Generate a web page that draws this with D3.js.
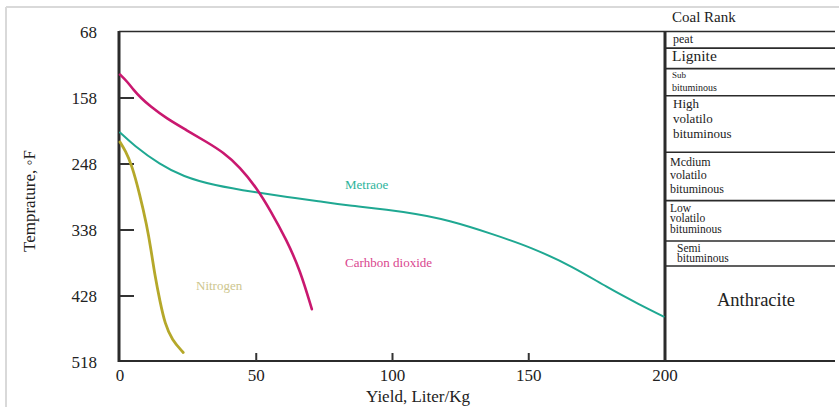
<!DOCTYPE html>
<html lang="en">
  <head>
    <meta charset="utf-8">
    <script src="https://cdnjs.cloudflare.com/ajax/libs/d3/7.8.5/d3.min.js"></script>
    <style>
      body { margin: 0; background: #fff; }
      svg text { font-family: "Liberation Serif", "Times New Roman", serif; fill: #222; }
      .frame { stroke: #d9d9d9; stroke-width: 2; }
      .axis-line { stroke: #2b2b2b; }
      .tick-mark { stroke: #333; stroke-width: 2; }
      .rank-line { stroke: #2b2b2b; stroke-width: 1.6; }
      .curve { fill: none; stroke-linecap: round; stroke-linejoin: round; }
    </style>
  </head>

  <body>

  <script>
  // values
  var xTicks = [0, 50, 100, 150, 200];
  var yTicks = [68, 158, 248, 338, 428, 518];

  var carbonDioxide = [[0, 126], [2.5, 135], [5, 147], [7.7, 158], [11, 169], [17.1, 186],
    [24.5, 202], [31.8, 218], [37.9, 232], [44, 252], [50.2, 281], [55, 310], [61.2, 352],
    [66.1, 393], [70.4, 446]];
  var methane = [[0, 205], [4.9, 222], [14.7, 249], [23.2, 265], [34.2, 277], [50.2, 287],
    [61.2, 293], [73.4, 299], [81.9, 304], [105.2, 313], [121.1, 325], [137, 344],
    [150.5, 361], [166.3, 388], [178.6, 416], [190.8, 440], [199.5, 456]];
  var nitrogen = [[0, 218], [2, 230], [4.3, 249], [7.3, 290], [9.8, 331], [11.4, 365], [12.8, 400],
    [14.7, 436], [16.5, 466], [19.1, 488], [23.2, 505]];

  var rankNames = [['peat'], ['Lignite'], ['Sub', 'bituminous'], ['High', 'volatilo', 'bituminous'],
    ['Mcdium', 'volatilo', 'bituminous'], ['Low', 'volatilo', 'bituminous'],
    ['Semi', 'bituminous'], ['Anthracite']];
  var rankTop = [68, 90, 118, 155, 232, 298, 353, 387];

  var width = 839,
      height = 407;

  var svg = d3.select('body')
    .append('svg')
    .attr('width', width)
    .attr('height', height);

  var x = d3.scaleLinear().domain([0, 200]).range([120, 665]);
  var y = d3.scaleLinear().domain([68, 518]).range([32, 362]);
  var panelRight = 835;

  // light frame of the picture
  svg.append('line').attr('class', 'frame').attr('x1', 6).attr('x2', width).attr('y1', 7).attr('y2', 7);
  svg.append('line').attr('class', 'frame').attr('x1', 6).attr('x2', 6).attr('y1', 7).attr('y2', height);

  // coal rank panel
  var rankStyle = [
    { size: [12], dx: 8, dy: [11] },
    { size: [15.5], dx: 7, dy: [13] },
    { size: [9, 10], dx: 7, dy: [9, 22] },
    { size: [13, 13, 13], dx: 8, dy: [12, 27, 42] },
    { size: [12, 12, 12], dx: 5, dy: [13.5, 27, 40.5] },
    { size: [11.5, 11.5, 11.5], dx: 5, dy: [11, 21.5, 32] },
    { size: [11.5, 11.5], dx: 12, dy: [10.5, 21] },
    { size: [18.5], dx: 52, dy: [40] }
  ];

  svg.append('text')
    .attr('x', 672).attr('y', 22)
    .style('font-size', '15px')
    .text('Coal Rank');

  svg.selectAll('.rank-line')
    .data(rankTop.slice(1))
    .enter().append('line')
    .attr('class', 'rank-line')
    .attr('x1', x(200)).attr('x2', panelRight)
    .attr('y1', d => y(d)).attr('y2', d => y(d));

  rankNames.forEach((lines, i) => {
    var st = rankStyle[i];
    lines.forEach((t, j) => {
      svg.append('text')
        .attr('x', x(200) + st.dx)
        .attr('y', y(rankTop[i]) + st.dy[j])
        .style('font-size', st.size[j] + 'px')
        .text(t);
    });
  });

  // plot box
  svg.append('line').attr('class', 'axis-line').attr('stroke-width', 1.6)
    .attr('x1', x(0) - 1).attr('x2', panelRight).attr('y1', y(68) - 0.5).attr('y2', y(68) - 0.5);
  svg.append('line').attr('class', 'axis-line').attr('stroke-width', 2)
    .attr('x1', x(0) - 1).attr('x2', panelRight).attr('y1', y(518) - 1).attr('y2', y(518) - 1);
  svg.append('line').attr('class', 'axis-line').attr('stroke-width', 3)
    .attr('x1', x(0) - 1).attr('x2', x(0) - 1).attr('y1', y(68) - 1).attr('y2', y(518));
  svg.append('line').attr('class', 'axis-line').attr('stroke-width', 3)
    .attr('x1', x(200)).attr('x2', x(200)).attr('y1', y(68) - 1).attr('y2', y(518));

  // ticks
  svg.selectAll('.ytick')
    .data(yTicks.slice(1, -1))
    .enter().append('line')
    .attr('class', 'tick-mark')
    .attr('x1', x(0)).attr('x2', x(0) + 14)
    .attr('y1', d => y(d)).attr('y2', d => y(d));

  svg.selectAll('.xtick')
    .data(xTicks.slice(1, -1))
    .enter().append('line')
    .attr('class', 'tick-mark')
    .attr('x1', d => x(d)).attr('x2', d => x(d))
    .attr('y1', y(518) - 1).attr('y2', y(518) - 9);

  svg.selectAll('.ylab')
    .data(yTicks)
    .enter().append('text')
    .attr('x', 97)
    .attr('y', d => y(d) + 6)
    .attr('text-anchor', 'end')
    .style('font-size', '17px')
    .text(d => d);

  svg.selectAll('.xlab')
    .data(xTicks)
    .enter().append('text')
    .attr('x', d => x(d))
    .attr('y', 381)
    .attr('text-anchor', 'middle')
    .style('font-size', '17px')
    .text(d => d);

  svg.append('text')
    .attr('x', 418).attr('y', 402)
    .attr('text-anchor', 'middle')
    .style('font-size', '17px')
    .text('Yield, Liter/Kg');

  svg.append('text')
    .attr('transform', 'translate(35,201) rotate(-90)')
    .attr('text-anchor', 'middle')
    .style('font-size', '17px')
    .text('Temprature, \u25E6F');

  // curves
  var line = d3.line()
    .x(d => x(d[0]))
    .y(d => y(d[1]))
    .curve(d3.curveBasis);

  svg.append('path').attr('class', 'curve')
    .attr('d', line(methane)).attr('stroke', '#1fa892').attr('stroke-width', 2);
  svg.append('path').attr('class', 'curve')
    .attr('d', line(carbonDioxide)).attr('stroke', '#c9186f').attr('stroke-width', 2.6);
  svg.append('path').attr('class', 'curve')
    .attr('d', line(nitrogen)).attr('stroke', '#b5a82a').attr('stroke-width', 2.8);

  // series labels
  svg.append('text').attr('x', 345).attr('y', 189)
    .style('font-size', '13px').style('fill', '#2bb39b').text('Metraoe');
  svg.append('text').attr('x', 345).attr('y', 267)
    .style('font-size', '13px').style('fill', '#d9458e').text('Carhbon dioxide');
  svg.append('text').attr('x', 196).attr('y', 290)
    .style('font-size', '13px').style('fill', '#cdc68e').text('Nitrogen');

  </script>
  </body>
</html>
